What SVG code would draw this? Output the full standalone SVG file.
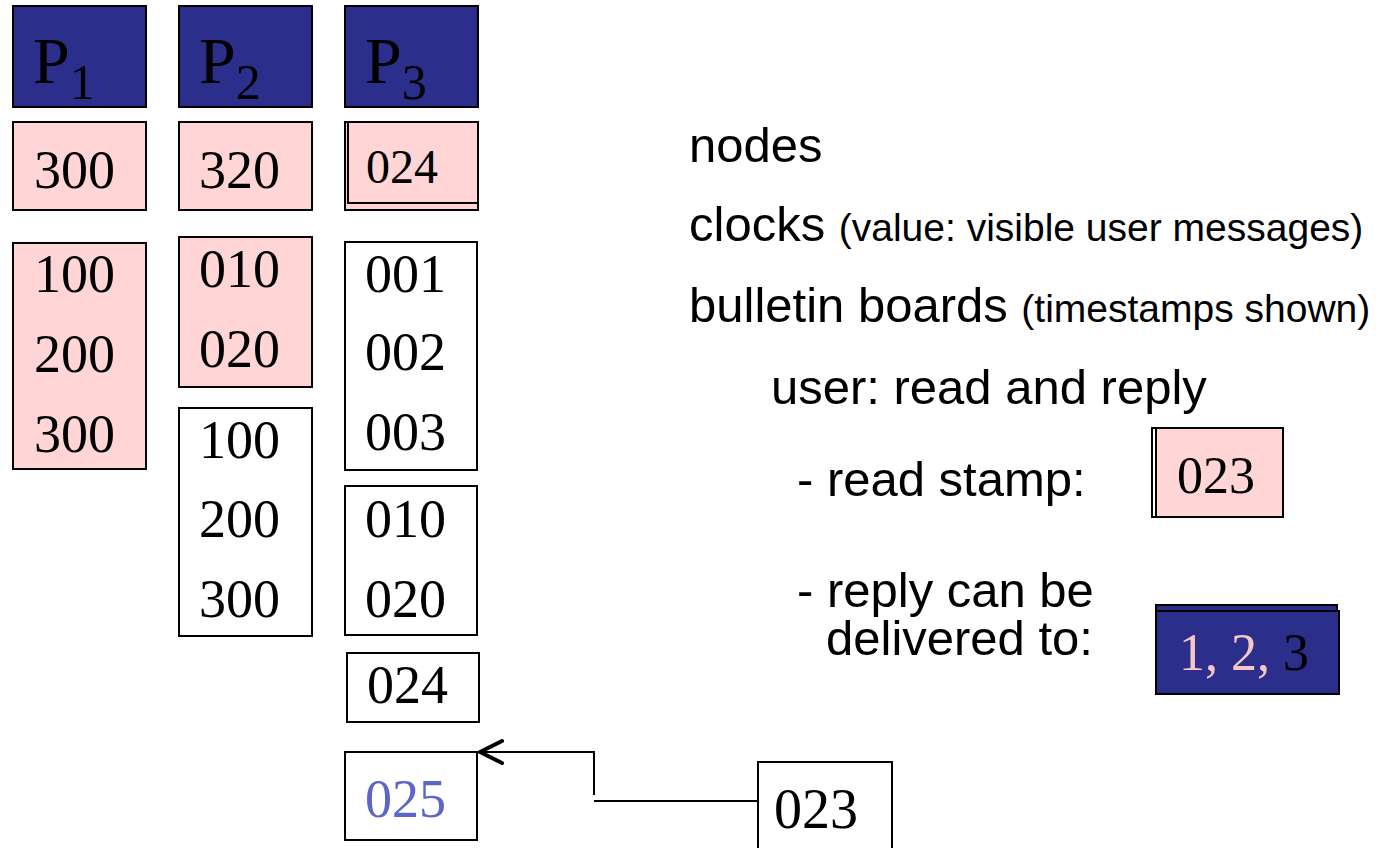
<svg xmlns="http://www.w3.org/2000/svg" width="1378" height="848" viewBox="0 0 1378 848">
<style>
.box{stroke:#000;stroke-width:2}
.pink{fill:#ffd5d5}
.white{fill:#fff}
.blue{fill:#2b2e8b}
.num{font-family:"Liberation Serif","Times New Roman",serif;font-size:54px;fill:#000}
.head{font-family:"Liberation Serif","Times New Roman",serif;font-size:66px;fill:#000}
.lab{font-family:"Liberation Sans",Arial,sans-serif;font-size:49px;fill:#000}
.small{font-size:39px}
.conn{fill:none;stroke:#000;stroke-width:2}
</style>
<defs>
<marker id="chev" markerUnits="userSpaceOnUse" markerWidth="40" markerHeight="40" viewBox="-30 -20 40 40" refX="0" refY="0" orient="auto" overflow="visible">
<path d="M-22,-11 L0,0 L-22,11" fill="none" stroke="#000" stroke-width="4" stroke-linecap="round" stroke-linejoin="round"/>
</marker>
</defs>
<rect width="1378" height="848" fill="#fff"/>

<g id="p1-header"><rect class="box blue" x="13" y="6" width="133" height="101"/><text class="head" x="33" y="83">P<tspan style="font-size:50px" dy="16">1</tspan></text></g>
<g id="p2-header"><rect class="box blue" x="179" y="6" width="133" height="101"/><text class="head" x="199" y="83">P<tspan style="font-size:50px" dy="16">2</tspan></text></g>
<g id="p3-header"><rect class="box blue" x="345" y="6" width="133" height="101"/><text class="head" x="365" y="83">P<tspan style="font-size:50px" dy="16">3</tspan></text></g>

<g id="p1-clock"><rect class="box pink" x="13" y="122" width="133" height="88"/><text class="num" x="34" y="188">300</text></g>
<g id="p2-clock"><rect class="box pink" x="179" y="122" width="133" height="88"/><text class="num" x="199" y="188">320</text></g>
<g id="p3-clock"><rect class="box pink" x="345" y="122" width="133" height="88"/><rect class="box pink" x="348" y="122" width="130" height="81"/><text class="num" x="366" y="183" style="font-size:48px">024</text></g>

<g id="p1-board"><rect class="box pink" x="13" y="243" width="133" height="226"/><text class="num" x="34" y="292">100</text><text class="num" x="34" y="372">200</text><text class="num" x="34" y="452">300</text></g>
<g id="p2-board-a"><rect class="box pink" x="179" y="237" width="133" height="150"/><text class="num" x="199" y="287">010</text><text class="num" x="199" y="367">020</text></g>
<g id="p2-board-b"><rect class="box white" x="179" y="408" width="133" height="228"/><text class="num" x="199" y="458">100</text><text class="num" x="199" y="537">200</text><text class="num" x="199" y="617">300</text></g>
<g id="p3-board-a"><rect class="box white" x="345" y="242" width="132" height="228"/><text class="num" x="365" y="292">001</text><text class="num" x="365" y="370">002</text><text class="num" x="365" y="450">003</text></g>
<g id="p3-board-b"><rect class="box white" x="345" y="486" width="132" height="149"/><text class="num" x="365" y="537">010</text><text class="num" x="365" y="617">020</text></g>
<g id="p3-board-c"><rect class="box white" x="347" y="653" width="132" height="69"/><text class="num" x="367" y="703">024</text></g>
<g id="p3-board-d"><rect class="box white" x="345" y="752" width="132" height="88"/><text class="num" x="365" y="817" style="fill:#5b66c6">025</text></g>

<g id="msg-023"><rect class="box white" x="758" y="762" width="134" height="100"/><text class="num" x="774" y="828" style="font-size:56px">023</text></g>

<g id="connectors">
<path class="conn" d="M758,801 H594"/>
<path class="conn" d="M594,795 V752 H480" marker-end="url(#chev)"/>
</g>

<g id="legend">
<text class="lab" x="689" y="162">nodes</text>
<text class="lab" x="689" y="241">clocks <tspan class="small">(value: visible user messages)</tspan></text>
<text class="lab" x="689" y="322">bulletin boards <tspan class="small">(timestamps shown)</tspan></text>
<text class="lab" x="771" y="404">user: read and reply</text>
<text class="lab" x="797" y="496">- read stamp:</text>
<text class="lab" x="797" y="607">- reply can be</text>
<text class="lab" x="826" y="655">delivered to:</text>
</g>

<g id="read-stamp"><rect class="box white" x="1152" y="428" width="131" height="89"/><rect class="box pink" x="1156" y="428" width="127" height="89"/><text class="num" x="1177" y="493" style="font-size:52px">023</text></g>
<g id="deliver-to"><rect class="box blue" x="1156" y="605" width="181" height="89"/><rect class="box blue" x="1156" y="611" width="183" height="83"/><text class="num" x="1179" y="670" style="font-size:52px"><tspan style="fill:#f7c6c6">1, 2, </tspan>3</text></g>
</svg>
